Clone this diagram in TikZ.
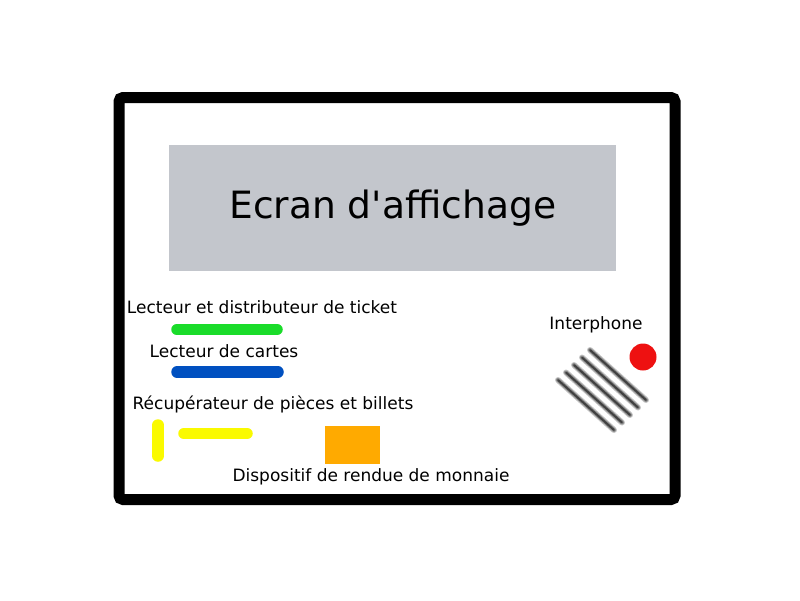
\documentclass[tikz,border=0pt]{standalone}
\usepackage{fontspec}
\setmainfont{DejaVu Sans}
\definecolor{screen}{HTML}{C3C6CC}
\definecolor{greenbar}{HTML}{1ADC2A}
\definecolor{bluebar}{HTML}{0050C0}
\definecolor{yellowbar}{HTML}{FAFA00}
\definecolor{obox}{HTML}{FFAA00}
\definecolor{rdot}{HTML}{EE1111}
\tikzset{
  lbl/.style={font=\fontsize{17}{20}\selectfont, inner sep=0pt, anchor=center},
  bar/.style={line width=11.5pt, line cap=round},
  stripehalo/.style={line width=6pt, draw=black!22, line cap=round},
  stripemid/.style={line width=4pt, draw=black!45, line cap=round},
  stripecore/.style={line width=2pt, draw=black!75, line cap=round},
}
\begin{document}
\begin{tikzpicture}[x=1pt,y=-1pt]
\useasboundingbox[fill=white] (0,0) rectangle (800,600);
% frame
\draw[line width=11pt, rounded corners=4pt] (119,97.5) rectangle (675,499.5);
% screen
\node[fill=screen, minimum width=447pt, minimum height=126pt, inner sep=0pt, anchor=north west,
      font=\fontsize{37.6}{44}\selectfont] (ecran) at (169,145) {Ecran d\textquotesingle affichage};
% labels
\node[lbl] (l1) at (262,307) {Lecteur et distributeur de ticket};
\node[lbl] (l2) at (224,351) {Lecteur de cartes};
\node[lbl] (l3) at (273,404) {Récupérateur de pièces et billets};
\node[lbl] (l4) at (371,477) {Dispositif de rendue de monnaie};
\node[lbl] (l5) at (596,325) {Interphone};
% bars
\coordinate (g1) at (177,329.5); \coordinate (g2) at (277,329.5);
\draw[bar, draw=greenbar] (g1) -- (g2);
\coordinate (b1) at (177,372); \coordinate (b2) at (278,372);
\draw[bar, draw=bluebar] (b1) -- (b2);
\coordinate (yv1) at (158,425); \coordinate (yv2) at (158,456);
\draw[bar, draw=yellowbar] (yv1) -- (yv2);
\coordinate (yh1) at (184,433.5); \coordinate (yh2) at (247,433.5);
\draw[bar, draw=yellowbar] (yh1) -- (yh2);
% orange box
\node[fill=obox, minimum width=55pt, minimum height=38pt, inner sep=0pt, anchor=north west] (rendu) at (325,426) {};
% interphone
\node[circle, fill=rdot, minimum size=27pt, inner sep=0pt] (dot) at (643,357) {};
\foreach \i in {0,...,4}{
  \draw[stripehalo] (590-8*\i,350+7.5*\i) -- (646-8*\i,400+7.5*\i);
  \draw[stripemid] (590-8*\i,350+7.5*\i) -- (646-8*\i,400+7.5*\i);
  \draw[stripecore] (590-8*\i,350+7.5*\i) -- (646-8*\i,400+7.5*\i);
}
\end{tikzpicture}
\end{document}
